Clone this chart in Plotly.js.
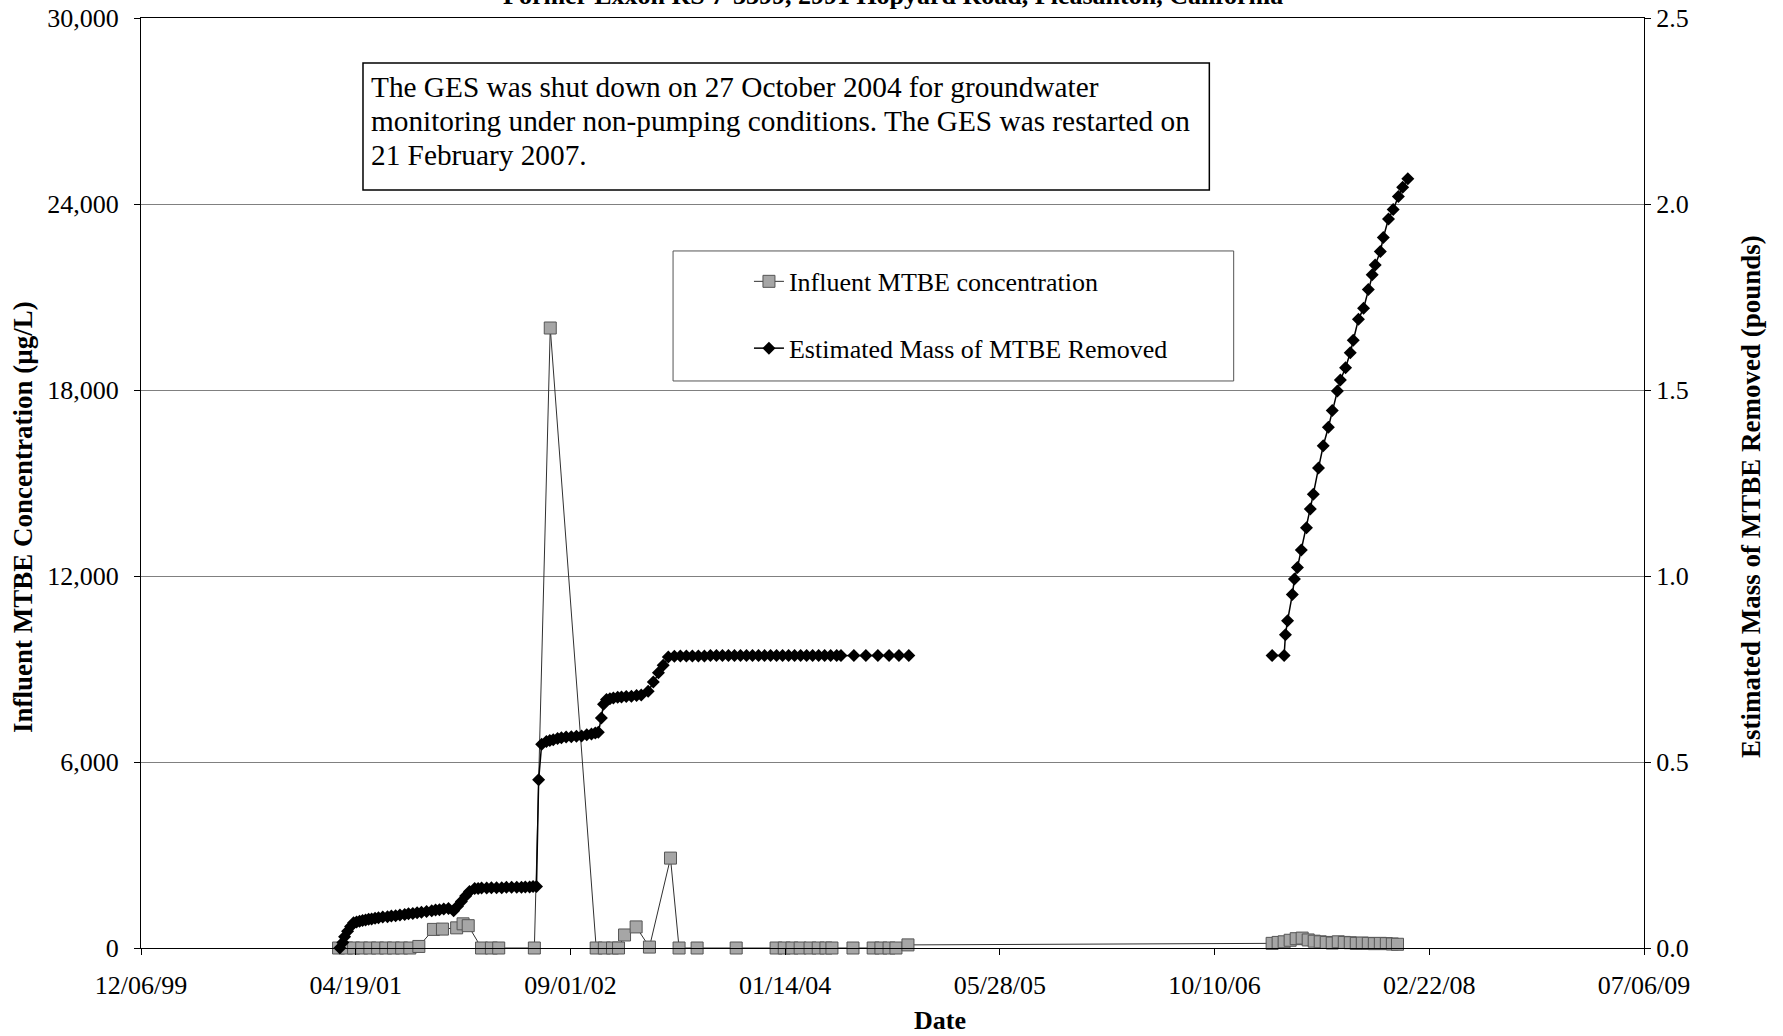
<!DOCTYPE html>
<html>
<head>
<meta charset="utf-8">
<script src="https://cdn.plot.ly/plotly-3.0.1.min.js"></script>
<style>
  html, body { margin: 0; padding: 0; background: #fff; }
  #chart { width: 1783px; height: 1036px; }
</style>
</head>
<body>
<div id="chart"></div>
<script>
// ---- Data (dates as spreadsheet serial day numbers) ----
const chartTitle = 'Former Exxon RS 7-3399, 2991 Hopyard Road, Pleasanton, California';
const noteLines = [
  'The GES was shut down on 27 October 2004 for groundwater',
  'monitoring under non-pumping conditions. The GES was restarted on',
  '21 February 2007.'
];
const seriesNames = ['Influent MTBE concentration', 'Estimated Mass of MTBE Removed'];
const xTitle = 'Date';
const yTitle = 'Influent MTBE Concentration (\u00b5g/L)';
const y2Title = 'Estimated Mass of MTBE Removed (pounds)';

// Influent MTBE concentration (ug/L)
const influentDays = [
  36960, 36979, 36995, 37014, 37033, 37051, 37070, 37088, 37107, 37126, 37147,
  37181, 37202, 37235, 37250, 37262,
  37293, 37316, 37333, 37416, 37453,
  37560, 37579, 37598, 37612, 37626, 37653, 37684, 37733, 37753, 37795, 37886,
  37979, 37998, 38016, 38035, 38058, 38077, 38095, 38109, 38158,
  38205, 38223, 38242, 38258, 38286,
  39134, 39148, 39162, 39176, 39190, 39204, 39218, 39232, 39246, 39260, 39274,
  39288, 39302, 39316, 39330, 39344, 39358, 39372, 39386, 39400, 39414, 39426
];
const influentVals = [
  0, 0, 0, 0, 0, 0, 0, 0, 0, 0, 50,
  600, 610, 650, 780, 720,
  0, 0, 0, 0, 20000,
  0, 0, 0, 0, 420, 680, 30, 2900, 0, 0, 0,
  0, 0, 0, 0, 0, 0, 0, 0, 0,
  0, 0, 0, 0, 100,
  150, 180, 200, 250, 300, 320, 260, 220, 200, 180, 160,
  200, 180, 170, 150, 160, 150, 140, 150, 140, 130, 120
];

// Estimated cumulative mass of MTBE removed (pounds); null = system shut down
const massDays = [
  36963, 36970, 36974, 36981, 36988, 36995, 37002, 37009, 37016, 37023, 37030, 37037,
  37045, 37053, 37063, 37074, 37083, 37093, 37103, 37114, 37123, 37133, 37143, 37153,
  37165, 37177, 37186, 37195, 37205, 37216, 37228, 37237, 37246, 37256, 37265, 37277,
  37285, 37293, 37305, 37316, 37328, 37340, 37351, 37363, 37375, 37386, 37395, 37405,
  37413, 37421, 37426, 37433, 37444, 37452, 37460, 37470, 37479, 37490, 37502, 37514,
  37526, 37538, 37549, 37558, 37565, 37572, 37577, 37584, 37592, 37600, 37610, 37619,
  37630, 37642, 37654, 37665, 37681, 37693, 37705, 37716, 37728,
  37742, 37756, 37770, 37784, 37798, 37812, 37826, 37840, 37854, 37868, 37882, 37896,
  37910, 37924, 37938, 37952, 37966, 37980, 37994, 38008, 38022, 38036, 38050, 38064,
  38078, 38092, 38106, 38120, 38130, 38160, 38188, 38216, 38242, 38265, 38288,
  38700,
  39134, 39162, 39165, 39170, 39181, 39186, 39193, 39202, 39214, 39223, 39230, 39242,
  39253, 39265, 39274, 39286, 39293, 39305, 39316, 39323, 39335, 39347, 39358, 39367,
  39374, 39386, 39393, 39405, 39416, 39428, 39438, 39450
];
const massVals = [
  0.000, 0.015, 0.030, 0.045, 0.058, 0.068, 0.070, 0.072, 0.074, 0.075, 0.077, 0.078,
  0.080, 0.081, 0.083, 0.084, 0.086, 0.087, 0.089, 0.090, 0.092, 0.093, 0.095, 0.096,
  0.098, 0.100, 0.102, 0.103, 0.105, 0.106, 0.100, 0.112, 0.125, 0.140, 0.152, 0.160,
  0.160, 0.161, 0.161, 0.162, 0.162, 0.162, 0.163, 0.163, 0.163, 0.163, 0.164, 0.164,
  0.165, 0.165, 0.452, 0.548, 0.555, 0.558, 0.560, 0.563, 0.565, 0.567, 0.568, 0.569,
  0.570, 0.573, 0.575, 0.578, 0.580, 0.618, 0.655, 0.668, 0.670, 0.672, 0.674, 0.675,
  0.676, 0.677, 0.679, 0.680, 0.690, 0.715, 0.740, 0.760, 0.782,
  0.784, 0.785, 0.785, 0.785, 0.785, 0.785, 0.786, 0.786, 0.786, 0.786, 0.786, 0.786,
  0.786, 0.786, 0.786, 0.786, 0.786, 0.786, 0.786, 0.786, 0.786, 0.786, 0.786, 0.786,
  0.786, 0.786, 0.786, 0.786, 0.786, 0.786, 0.786, 0.786, 0.786, 0.786, 0.786,
  null,
  0.786, 0.786, 0.842, 0.880, 0.950, 0.992, 1.023, 1.070, 1.130, 1.180, 1.220, 1.290,
  1.350, 1.400, 1.445, 1.497, 1.527, 1.560, 1.600, 1.634, 1.690, 1.720, 1.770, 1.810,
  1.836, 1.872, 1.910, 1.960, 1.985, 2.020, 2.045, 2.068
];

// Axis ticks
const xStartDay = 36500, xEndDay = 40000, xStepDays = 500;
const yMax = 30000, yStep = 6000;
const y2Max = 2.5, y2Step = 0.5;

// ---- Helpers ----
function serialToDate(d) {
  const ms = Date.UTC(1899, 11, 30) + d * 86400000;
  return new Date(ms).toISOString().slice(0, 10);
}

const FONT = '"Liberation Serif", "Times New Roman", Times, serif';
const blackFont = (size) => ({ family: FONT, size: size, color: '#000' });

const traceInfluent = {
  type: 'scatter', mode: 'lines+markers',
  name: seriesNames[0], legendgroup: 'a',
  x: influentDays.map(serialToDate), y: influentVals,
  yaxis: 'y', cliponaxis: false,
  line: { color: '#303030', width: 1 },
  marker: { symbol: 'square', size: 12, color: '#a6a6a6', line: { color: '#555555', width: 1 } }
};
const traceMass = {
  type: 'scatter', mode: 'lines+markers',
  name: seriesNames[1], legendgroup: 'b',
  x: massDays.map(serialToDate), y: massVals,
  yaxis: 'y2', cliponaxis: false, connectgaps: false,
  line: { color: '#000000', width: 1.5 },
  marker: { symbol: 'diamond', size: 10, color: '#000000', line: { color: '#000000', width: 0 } }
};

const noteY = [0.9258, 0.8892, 0.8527];
const noteAnnotations = noteLines.map((t, i) => ({
  xref: 'paper', yref: 'paper', x: 0.152, y: noteY[i], xanchor: 'left', yanchor: 'middle',
  align: 'left', showarrow: false, text: t, font: blackFont(29.3)
}));

const layout = {
  width: 1783, height: 1036,
  margin: { l: 141, r: 139, t: 18, b: 88, pad: 0 },
  paper_bgcolor: '#ffffff', plot_bgcolor: '#ffffff',
  font: blackFont(26),
  showlegend: true,
  legend: {
    x: 0.4045, y: 0.742, xanchor: 'left', yanchor: 'top',
    bgcolor: 'rgba(0,0,0,0)', borderwidth: 0,
    font: blackFont(26),
    tracegroupgap: 30, itemwidth: 30
  },
  xaxis: {
    type: 'date',
    range: [serialToDate(xStartDay), serialToDate(xEndDay)],
    tick0: serialToDate(xStartDay), dtick: xStepDays * 86400000,
    tickformat: '%m/%d/%y',
    ticks: 'outside', ticklen: 6, tickcolor: '#000', tickwidth: 1,
    ticklabelstandoff: 8,
    showline: true, linecolor: '#000', linewidth: 1, mirror: true,
    showgrid: false, zeroline: false,
    tickfont: blackFont(26)
  },
  yaxis: {
    range: [0, yMax], dtick: yStep, tick0: 0, tickformat: ',d',
    ticks: 'outside', ticklen: 6, tickcolor: '#000', tickwidth: 1,
    ticklabelstandoff: 10,
    showline: true, linecolor: '#000', linewidth: 1,
    showgrid: true, gridcolor: '#808080', gridwidth: 1, zeroline: false,
    tickfont: blackFont(26)
  },
  yaxis2: {
    overlaying: 'y', side: 'right',
    range: [0, y2Max], dtick: y2Step, tick0: 0, tickformat: '.1f',
    ticks: 'outside', ticklen: 6, tickcolor: '#000', tickwidth: 1,
    ticklabelstandoff: 0,
    showline: true, linecolor: '#000', linewidth: 1,
    showgrid: false, zeroline: false,
    tickfont: blackFont(26)
  },
  shapes: [
    { type: 'rect', xref: 'paper', yref: 'paper', x0: 0.1477, x1: 0.7108, y0: 0.8151, y1: 0.9516,
      line: { color: '#000', width: 1.5 }, fillcolor: 'rgba(0,0,0,0)' },
    { type: 'rect', xref: 'paper', yref: 'paper', x0: 0.354, x1: 0.727, y0: 0.6097, y1: 0.7495,
      line: { color: '#555', width: 1 }, fillcolor: 'rgba(0,0,0,0)' }
  ],
  annotations: [
    { xref: 'paper', yref: 'paper', x: 0.5, y: 1, xanchor: 'center', yanchor: 'bottom', yshift: 6,
      showarrow: false, text: '<b>' + chartTitle + '</b>', font: blackFont(26) },
    { xref: 'paper', yref: 'paper', x: 0.5316, y: 0, xanchor: 'center', yanchor: 'middle', yshift: -72,
      showarrow: false, text: '<b>' + xTitle + '</b>', font: blackFont(26) },
    { xref: 'paper', yref: 'paper', x: -0.0785, y: 0.4634, xanchor: 'center', yanchor: 'middle',
      textangle: -90, showarrow: false, text: '<b>' + yTitle + '</b>', font: blackFont(27) },
    { xref: 'paper', yref: 'paper', x: 1.0712, y: 0.485, xanchor: 'center', yanchor: 'middle',
      textangle: -90, showarrow: false, text: '<b>' + y2Title + '</b>', font: blackFont(27) }
  ].concat(noteAnnotations)
};

Plotly.newPlot('chart', [traceInfluent, traceMass], layout, { displayModeBar: false, staticPlot: true });
</script>
</body>
</html>
